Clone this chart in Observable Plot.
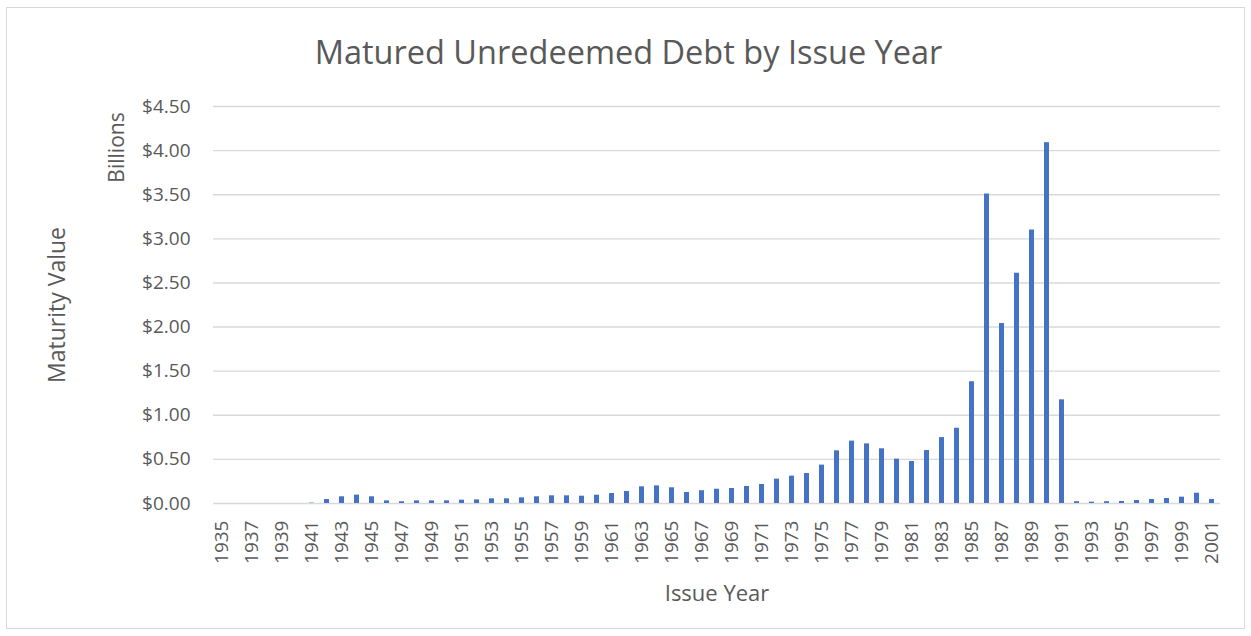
<!DOCTYPE html>
<html>
<head>
<meta charset="utf-8">
<script src="https://cdn.jsdelivr.net/npm/d3@7"></script>
<script src="https://cdn.jsdelivr.net/npm/@observablehq/plot@0.6"></script>
<style>
  html, body { margin: 0; padding: 0; background: #fff; }
  #wrap { position: relative; width: 1251px; height: 636px; overflow: hidden; font-family: "Open Sans", sans-serif; }
  #frame { position: absolute; left: 6px; top: 7px; width: 1239px; height: 622px; border: 1px solid #d9d9d9; box-sizing: border-box; }
  #title { position: absolute; left: 0; top: 33px; width: 1257px; text-align: center; font-size: 32.5px; line-height: 38px; color: #595959; }
  #chart { position: absolute; left: 0; top: 0; }
</style>
</head>
<body>
<div id="wrap">
  <div id="frame"></div>
  <div id="chart"></div>
  <div id="title">Matured Unredeemed Debt by Issue Year</div>
</div>
<script>
const years = [1935,1936,1937,1938,1939,1940,1941,1942,1943,1944,1945,1946,1947,1948,1949,1950,
  1951,1952,1953,1954,1955,1956,1957,1958,1959,1960,1961,1962,1963,1964,1965,1966,1967,1968,1969,1970,
  1971,1972,1973,1974,1975,1976,1977,1978,1979,1980,1981,1982,1983,1984,1985,1986,1987,1988,1989,1990,
  1991,1992,1993,1994,1995,1996,1997,1998,1999,2000,2001];
// Maturity value, billions of dollars
const values = [0,0,0,0,0,0,0.004,0.045,0.076,0.095,0.076,0.03,0.02,0.03,0.03,0.03,
  0.038,0.041,0.053,0.053,0.064,0.076,0.087,0.087,0.083,0.094,0.113,0.136,0.189,0.2,0.178,0.125,0.145,0.162,0.17,0.193,
  0.215,0.276,0.31,0.34,0.435,0.597,0.707,0.676,0.62,0.503,0.476,0.6,0.747,0.853,1.38,3.508,2.04,2.61,3.10,4.09,
  1.175,0.02,0.015,0.02,0.023,0.034,0.045,0.057,0.072,0.117,0.045];
const xTickYears = [1935,1937,1939,1941,1943,1945,1947,1949,1951,1953,1955,1957,1959,1961,1963,1965,1967,1969,
  1971,1973,1975,1977,1979,1981,1983,1985,1987,1989,1991,1993,1995,1997,1999,2001];
const yTicks = [0,0.5,1,1.5,2,2.5,3,3.5,4,4.5];

const data = years.map((y, i) => ({year: y, value: values[i]}));
const textColor = "#595959";

const plot = Plot.plot({
  width: 1251,
  height: 636,
  marginTop: 106,
  marginBottom: 133,
  marginLeft: 213,
  marginRight: 31,
  style: {fontFamily: "'Open Sans', sans-serif", color: textColor, background: "transparent", overflow: "visible"},
  x: {type: "band", domain: years, paddingInner: 0.69, paddingOuter: 0.345},
  y: {domain: [0, 4.5]},
  marks: [
    Plot.gridY(yTicks, {stroke: "#d9d9d9", strokeOpacity: 1, strokeWidth: 1.4}),
    Plot.barY(data, {x: "year", y: "value", fill: "#4472C4"}),
    Plot.axisY(yTicks, {tickSize: 0, tickPadding: 23, fontSize: 19, fill: textColor,
      tickFormat: d => "$" + d.toFixed(2), label: null}),
    Plot.axisX(xTickYears, {tickSize: 0, tickPadding: 17, tickRotate: -90, fontSize: 19, fill: textColor,
      tickFormat: d => String(d), label: null}),
    Plot.text(["Billions"], {frameAnchor: "top-left", dx: -96, dy: 41, rotate: -90, fontSize: 21, fill: textColor, textAnchor: "middle", lineAnchor: "middle"}),
    Plot.text(["Maturity Value"], {frameAnchor: "left", dx: -156, rotate: -90, fontSize: 23, fill: textColor, textAnchor: "middle", lineAnchor: "middle"}),
    Plot.text(["Issue Year"], {frameAnchor: "bottom", dy: 90, fontSize: 22, fill: textColor, textAnchor: "middle", lineAnchor: "middle"})
  ]
});
document.getElementById("chart").appendChild(plot);
</script>
</body>
</html>
